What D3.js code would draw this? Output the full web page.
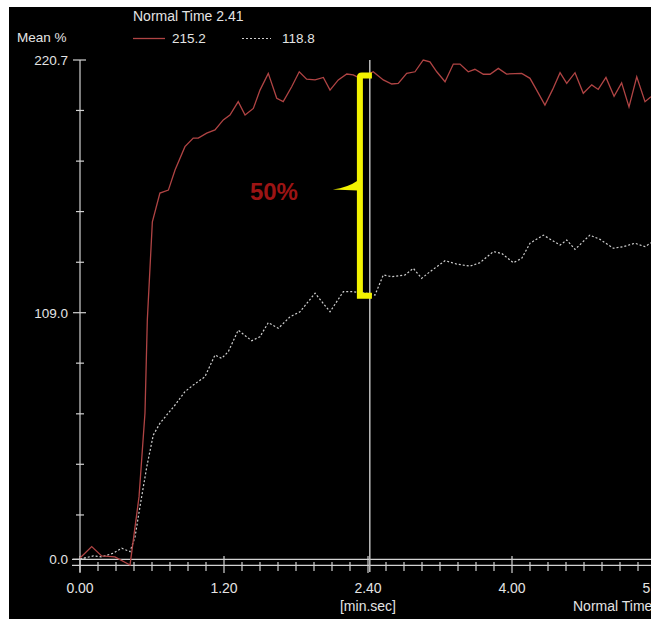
<!DOCTYPE html>
<html>
<head>
<meta charset="utf-8">
<script src="https://cdn.jsdelivr.net/npm/d3@7"></script>
<style>
  body { margin: 0; background: #fff; }
  text { font-family: "Liberation Sans", Arial, sans-serif; fill: #e4e4e4; }
</style>
</head>
<body>
<div id="chart"></div>
<script>
(function() {
  // time in seconds, value in mean %
  var redSeries = [
    [0, 0.6], [6.5, 5.6], [12, 1.5], [19.4, 1.1], [27.8, -2.5], [32.8, 27.7], [36.1, 64.7],
    [37.4, 105.8], [40.2, 149.2], [44.4, 161.9], [49.1, 163.2], [52.8, 172.1], [58.3, 182.4],
    [62.9, 186.2], [65.7, 186.2], [70.4, 188.4], [75, 189.8], [79.6, 194.2], [83.3, 196.4],
    [87.9, 202.3], [91.7, 196.4], [96.3, 199.3], [100, 207.4], [104.6, 214.8], [109.3, 203.8],
    [112.9, 202.3], [117.6, 208.9], [121.8, 215.5], [125.9, 212.2], [130.6, 211.9], [135.2, 213],
    [138.9, 207.4], [143.5, 211.9], [148.2, 214.5], [151.8, 214.1], [155.6, 212.6], [162.9, 215.5],
    [168.5, 211.9], [173.2, 210.1], [176.8, 210.4], [181.5, 214.8], [186.1, 215.5], [190.7, 220.7],
    [194.4, 219.9], [198.2, 215.5], [202.8, 211.1], [207.4, 218.9], [211.1, 218.9], [215.7, 215.5],
    [219.4, 216.6], [224.1, 214.4], [227.8, 214.4], [232.4, 217], [237, 214.5], [245.4, 214.8],
    [250, 212.6], [253.7, 207.4], [258.3, 200.8], [262.6, 207.7], [266.7, 215.1], [270.4, 210.4],
    [275, 215.1], [279.6, 206], [284.3, 209.7], [287.9, 207.7], [292.2, 213], [296.7, 204.7],
    [300.9, 210.6], [305, 200], [309.3, 213.3], [313.9, 202.3], [317.2, 204.5]
  ]

  var whiteSeries = [
    [0, 0.1], [7.4, 1.5], [12.1, 1.1], [18.5, 2.7], [23.2, 4.9], [27.8, 3.4], [30.6, 10],
    [33.3, 23.2], [37.1, 40.9], [40.7, 54.9], [44.4, 60.1], [48.2, 63.8], [52.8, 68.2],
    [58.3, 74.1], [62.9, 77], [69.4, 80.7], [75, 90.3], [78.7, 88.8], [82.4, 91.8], [87.9, 101.3],
    [95.4, 96.6], [100, 98.4], [104.6, 104.6], [110.2, 102.1], [116.7, 107.2], [122.2, 109.4],
    [130.6, 117.6], [138.9, 109.4], [146.3, 118.3], [151, 118.3], [159.3, 117.6], [163.9, 116.8],
    [168.5, 125.7], [173.2, 124.9], [180.6, 125.7], [185.2, 128.6], [189.8, 124.2], [194.4, 127.1],
    [202.8, 132], [209.3, 130.5], [216.7, 129.6], [222.2, 131.1], [229.6, 136], [234.3, 135.2],
    [240.7, 131.1], [245.4, 133], [250, 139.7], [257.4, 143.3], [262.1, 141.1], [266.7, 138.9],
    [270.4, 141.1], [275, 137], [283.3, 143.3], [288.9, 141.4], [296.3, 137.5], [301.9, 138.2],
    [308.3, 139.7], [313.9, 138.2], [317.2, 139.9]
  ]

  var xTicks = [0, 80, 160, 240, 320]          // labelled as min.sec
  var yTicks = [0, 109.0, 220.7]
  var yMinorTicks = [198.4, 176.0, 153.7, 131.3, 86.7, 64.3, 42.0, 19.6]
  var yBottom = -2.7
  var cursorTime = 161
  var legendValues = [215.2, 118.8]
  var bracketValues = [215.2, 115.2]
  var bracketTime = 155.5
  var bracketLabel = '50%'

  var W = 651, H = 619

  var svg = d3.select('#chart')
    .append('svg')
    .attr('width', W)
    .attr('height', H)

  svg.append('rect')
    .attr('x', 9).attr('y', 7)
    .attr('width', W - 9).attr('height', H - 7)
    .attr('fill', '#000')

  var x = d3.scaleLinear().domain([0, 320]).range([80, 656])
  var y = d3.scaleLinear().domain([0, 220.7]).range([559.3, 60])

  function minSec(t) {
    var m = Math.floor(t / 60), s = Math.round(t % 60)
    return m + '.' + (s < 10 ? '0' + s : s)
  }

  var axisColor = '#d2d2d2'

  // horizontal base lines
  ;[0, yBottom].forEach(function(v) {
    svg.append('line')
      .attr('x1', 72).attr('x2', W)
      .attr('y1', y(v)).attr('y2', y(v))
      .attr('stroke', axisColor).attr('stroke-width', 1.2)
  })

  // y axis line
  svg.append('line')
    .attr('x1', x(0)).attr('x2', x(0))
    .attr('y1', y(220.7)).attr('y2', 572)
    .attr('stroke', axisColor).attr('stroke-width', 1.2)

  // y ticks
  svg.selectAll('.ymajor')
    .data(yTicks)
    .enter().append('line')
    .attr('x1', x(0) - 7).attr('x2', x(0) + 6)
    .attr('y1', d => y(d)).attr('y2', d => y(d))
    .attr('stroke', axisColor).attr('stroke-width', 1.2)

  svg.selectAll('.yminor')
    .data(yMinorTicks)
    .enter().append('line')
    .attr('x1', x(0) - 4).attr('x2', x(0) + 4)
    .attr('y1', d => y(d)).attr('y2', d => y(d))
    .attr('stroke', axisColor).attr('stroke-width', 1.2)

  svg.selectAll('.ylabel')
    .data(yTicks)
    .enter().append('text')
    .attr('x', 68)
    .attr('y', d => y(d))
    .attr('dy', '0.36em')
    .attr('text-anchor', 'end')
    .attr('font-size', 13.5)
    .text(d => d.toFixed(1))

  // x ticks every 10 s
  var xMinor = d3.range(0, 318, 10)
  svg.selectAll('.xtick')
    .data(xMinor)
    .enter().append('line')
    .attr('x1', d => x(d)).attr('x2', d => x(d))
    .attr('y1', d => xTicks.indexOf(d) >= 0 ? 556 : 562)
    .attr('y2', d => xTicks.indexOf(d) >= 0 ? 573 : 571)
    .attr('stroke', axisColor).attr('stroke-width', 1.2)

  svg.selectAll('.xlabel')
    .data(xTicks)
    .enter().append('text')
    .attr('x', d => x(d))
    .attr('y', 593)
    .attr('text-anchor', 'middle')
    .attr('font-size', 14)
    .text(d => minSec(d))

  svg.append('text')
    .attr('x', x(160)).attr('y', 611)
    .attr('text-anchor', 'middle')
    .attr('font-size', 14)
    .text('[min.sec]')

  svg.append('text')
    .attr('x', 573).attr('y', 611)
    .attr('font-size', 14)
    .text('Normal Time')

  // header / legend
  svg.append('text')
    .attr('x', 17).attr('y', 42)
    .attr('font-size', 13.5)
    .text('Mean %')

  svg.append('text')
    .attr('x', 133).attr('y', 21)
    .attr('font-size', 14)
    .text('Normal Time ' + minSec(cursorTime))

  svg.append('line')
    .attr('x1', 133).attr('x2', 165).attr('y1', 38.5).attr('y2', 38.5)
    .attr('stroke', '#b04444').attr('stroke-width', 1.3)
  svg.append('text')
    .attr('x', 172).attr('y', 43)
    .attr('font-size', 13.5)
    .text(legendValues[0].toFixed(1))

  svg.append('line')
    .attr('x1', 242).attr('x2', 271).attr('y1', 38.5).attr('y2', 38.5)
    .attr('stroke', '#cfcfcf').attr('stroke-width', 1.2)
    .attr('stroke-dasharray', '2,2')
  svg.append('text')
    .attr('x', 282).attr('y', 43)
    .attr('font-size', 13.5)
    .text(legendValues[1].toFixed(1))

  // cursor line
  svg.append('line')
    .attr('x1', x(cursorTime)).attr('x2', x(cursorTime))
    .attr('y1', y(220.7)).attr('y2', 572)
    .attr('stroke', '#bdbdbd').attr('stroke-width', 1.5)

  var line = d3.line()
    .x(d => x(d[0]))
    .y(d => y(d[1]))

  svg.append('path')
    .attr('d', line(whiteSeries))
    .attr('fill', 'none')
    .attr('stroke', '#cfcfcf')
    .attr('stroke-width', 1.2)
    .attr('stroke-dasharray', '2,2')

  svg.append('path')
    .attr('d', line(redSeries))
    .attr('fill', 'none')
    .attr('stroke', '#b04444')
    .attr('stroke-width', 1.3)

  // yellow bracket annotation
  var cx = x(bracketTime)
  var top = y(bracketValues[0])
  var bottom = y(bracketValues[1])
  var mid = (top + bottom) / 2

  svg.append('path')
    .attr('d', 'M' + (cx - 3) + ',' + bottom +
      'L' + (cx - 3) + ',' + (top + 5) +
      'Q' + (cx - 3) + ',' + top + ' ' + (cx + 2) + ',' + top +
      'L' + (cx + 12) + ',' + top +
      'L' + (cx + 12) + ',' + (top + 6) +
      'L' + (cx + 3) + ',' + (top + 6) +
      'L' + (cx + 3) + ',' + (bottom - 6) +
      'L' + (cx + 12) + ',' + (bottom - 6) +
      'L' + (cx + 12) + ',' + bottom + 'Z')
    .attr('fill', '#f2f200')

  svg.append('path')
    .attr('d', 'M' + (cx - 2) + ',' + (mid - 5) +
      'Q' + (cx - 12) + ',' + (mid + 2) + ' ' + (cx - 27) + ',' + (mid + 4) +
      'L' + (cx - 2) + ',' + (mid + 5) + 'Z')
    .attr('fill', '#f2f200')

  svg.append('text')
    .attr('x', cx - 86).attr('y', mid + 14)
    .attr('text-anchor', 'middle')
    .attr('font-family', '"DejaVu Sans", sans-serif')
    .attr('font-weight', 'bold')
    .attr('font-size', 24)
    .style('fill', '#9c1414')
    .text(bracketLabel)
})()
</script>
</body>
</html>
